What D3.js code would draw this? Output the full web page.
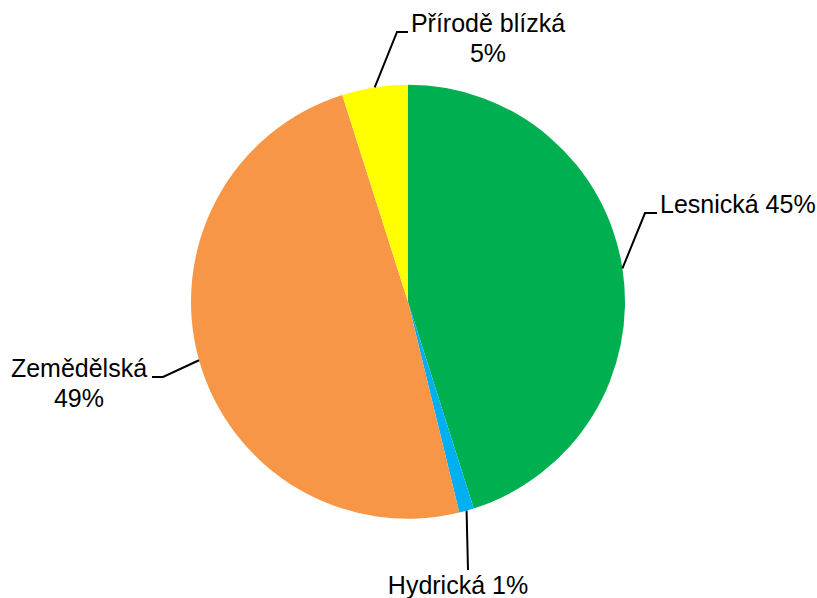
<!DOCTYPE html>
<html><head><meta charset="utf-8">
<script src="https://cdn.jsdelivr.net/npm/d3@7"></script>
<style>html,body{margin:0;padding:0;background:#fff;}svg{display:block;}</style>
</head><body>
<svg id="c" width="817" height="598"></svg>
<script>
const categories = ["Lesnická", "Hydrická", "Zemědělská", "Přírodě blízká"];
const values = [45.1, 1.1, 48.9, 4.9];
const pctLabels = ["45%", "1%", "49%", "5%"];
const colors = ["#00B050", "#00B0F0", "#F79646", "#FFFF00"];

const svg = d3.select("#c");
const cx = 408, cy = 301.7, r = 217;
const g = svg.append("g").attr("transform", `translate(${cx},${cy})`);

const pie = d3.pie().sort(null).value(d => d)(values);
const arc = d3.arc().innerRadius(0).outerRadius(r);
g.selectAll("path.s").data(pie).join("path")
  .attr("class","s").attr("d", arc).attr("fill", (d,i)=>colors[i]);

// label layout (leader elbows and text positions)
const layout = [
  {elbow:[[645,213],[657,213]], lines:[categories[0]+" "+pctLabels[0]], x:660, y:213, anchor:"start"},
  {elbow:[[468,570]], lines:[categories[1]+" "+pctLabels[1]], x:458, y:593.5, anchor:"middle"},
  {elbow:[[163,377],[152,377]], lines:[categories[2], pctLabels[2]], x:79, y:377, anchor:"middle"},
  {elbow:[[397,32],[408,32]], lines:[categories[3], pctLabels[3]], x:488, y:32, anchor:"middle"}
];

pie.forEach((d,i)=>{
  const a = (d.startAngle + d.endAngle)/2;
  const p0 = [cx + r*Math.sin(a), cy - r*Math.cos(a)];
  const pts = [p0].concat(layout[i].elbow);
  svg.append("path").attr("d", d3.line()(pts))
    .attr("fill","none").attr("stroke","#000").attr("stroke-width",2);
  const t = svg.append("text").attr("x", layout[i].x).attr("y", layout[i].y)
    .attr("text-anchor", layout[i].anchor)
    .attr("font-family","Liberation Sans, Arial, sans-serif")
    .attr("font-size", 25).attr("fill","#000");
  layout[i].lines.forEach((ln,j)=>{
    t.append("tspan").attr("x", layout[i].x).attr("dy", j===0?0:30).text(ln);
  });
});
</script>
</body></html>
